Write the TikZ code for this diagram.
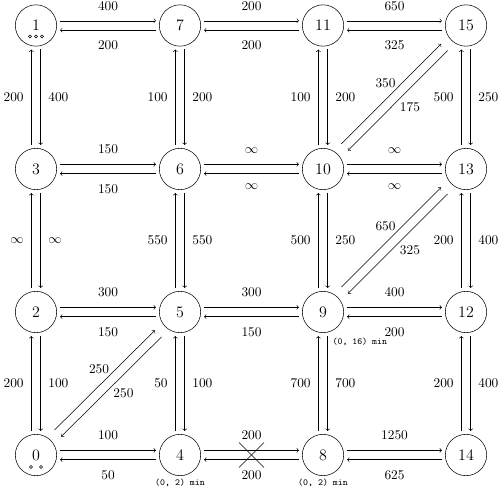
\documentclass[tikz,border=0pt]{standalone}
\usetikzlibrary{calc}
\tikzset{
 vtx/.style={circle,draw,minimum size=31pt,inner sep=0pt,font=\large},
 arr/.style={->},
 lab/.style={auto,inner sep=5.6pt,font=\normalsize},
 hl/.style={inner sep=7.7pt},
 dul/.style={auto=false,anchor=center,xshift=-4.25pt,yshift=8pt},
 ddr/.style={auto=false,anchor=center,xshift=9.1pt,yshift=-4.6pt},
 smallc/.style={draw},
 note/.style={font=\scriptsize\ttfamily,inner sep=1pt},
}
\newcommand\edgeAB[5][]{\draw[arr] ($(#3)!#2!(#4)!3.5pt!90:(#4)$) -- node[lab,#1]{#5} ($(#4)!#2!(#3)!3.5pt!-90:(#3)$);}
\begin{document}
\begin{tikzpicture}[x=0.75pt,y=0.75pt]
\useasboundingbox (0,0) rectangle (504,490);
% vertices
\node[vtx] (n1)  at (36,464.5) {1};
\node[vtx] (n7)  at (180,464.5) {7};
\node[vtx] (n11) at (323,464.5) {11};
\node[vtx] (n15) at (466,464.5) {15};
\node[vtx] (n3)  at (36,321) {3};
\node[vtx] (n6)  at (180,321) {6};
\node[vtx] (n10) at (323,321) {10};
\node[vtx] (n13) at (466,321) {13};
\node[vtx] (n2)  at (36,178) {2};
\node[vtx] (n5)  at (180,178) {5};
\node[vtx] (n9)  at (323,178) {9};
\node[vtx] (n12) at (466,178) {12};
\node[vtx] (n0)  at (36,35) {0};
\node[vtx] (n4)  at (180,35) {4};
\node[vtx] (n8)  at (323,35) {8};
\node[vtx] (n14) at (466,35) {14};
% small circles
\draw[smallc] (n1) ++(-6,-11) circle (1.4);
\draw[smallc] (n1) ++(0,-11) circle (1.4);
\draw[smallc] (n1) ++(6,-11) circle (1.4);
\draw[smallc] (n0) ++(-5,-12) circle (1.4);
\draw[smallc] (n0) ++(5,-12) circle (1.4);
% horizontal edges
\edgeAB[hl]{18pt}{n1}{n7}{400}
\edgeAB[hl]{18pt}{n7}{n1}{200}
\edgeAB[hl]{18pt}{n7}{n11}{200}
\edgeAB[hl]{18pt}{n11}{n7}{200}
\edgeAB[hl]{18pt}{n11}{n15}{650}
\edgeAB[hl]{18pt}{n15}{n11}{325}
\edgeAB[hl]{18pt}{n3}{n6}{150}
\edgeAB[hl]{18pt}{n6}{n3}{150}
\edgeAB[hl]{18pt}{n6}{n10}{$\infty$}
\edgeAB[hl]{18pt}{n10}{n6}{$\infty$}
\edgeAB[hl]{18pt}{n10}{n13}{$\infty$}
\edgeAB[hl]{18pt}{n13}{n10}{$\infty$}
\edgeAB[hl]{18pt}{n2}{n5}{300}
\edgeAB[hl]{18pt}{n5}{n2}{150}
\edgeAB[hl]{18pt}{n5}{n9}{300}
\edgeAB[hl]{18pt}{n9}{n5}{150}
\edgeAB[hl]{18pt}{n9}{n12}{400}
\edgeAB[hl]{18pt}{n12}{n9}{200}
\edgeAB[hl]{18pt}{n0}{n4}{100}
\edgeAB[hl]{18pt}{n4}{n0}{50}
\edgeAB[hl]{18pt}{n4}{n8}{200}
\edgeAB[hl]{18pt}{n8}{n4}{200}
\edgeAB[hl]{18pt}{n8}{n14}{1250}
\edgeAB[hl]{18pt}{n14}{n8}{625}
% vertical edges
\edgeAB{18pt}{n3}{n1}{200}
\edgeAB{18pt}{n1}{n3}{400}
\edgeAB{18pt}{n2}{n3}{$\infty$}
\edgeAB{18pt}{n3}{n2}{$\infty$}
\edgeAB{18pt}{n0}{n2}{200}
\edgeAB{18pt}{n2}{n0}{100}
\edgeAB{18pt}{n6}{n7}{100}
\edgeAB{18pt}{n7}{n6}{200}
\edgeAB{18pt}{n5}{n6}{550}
\edgeAB{18pt}{n6}{n5}{550}
\edgeAB{18pt}{n4}{n5}{50}
\edgeAB{18pt}{n5}{n4}{100}
\edgeAB{18pt}{n10}{n11}{100}
\edgeAB{18pt}{n11}{n10}{200}
\edgeAB{18pt}{n9}{n10}{500}
\edgeAB{18pt}{n10}{n9}{250}
\edgeAB{18pt}{n8}{n9}{700}
\edgeAB{18pt}{n9}{n8}{700}
\edgeAB{18pt}{n13}{n15}{500}
\edgeAB{18pt}{n15}{n13}{250}
\edgeAB{18pt}{n12}{n13}{200}
\edgeAB{18pt}{n13}{n12}{400}
\edgeAB{18pt}{n14}{n12}{200}
\edgeAB{18pt}{n12}{n14}{400}
% diagonal edges
\edgeAB[dul]{23pt}{n10}{n15}{350}
\edgeAB[ddr]{23pt}{n15}{n10}{175}
\edgeAB[dul]{23pt}{n9}{n13}{650}
\edgeAB[ddr]{23pt}{n13}{n9}{325}
\edgeAB[dul]{23pt}{n0}{n5}{250}
\edgeAB[ddr]{23pt}{n5}{n0}{250}
% cross on 4-8
\coordinate (cx) at ($(n4)!0.5!(n8)$);
\draw ([shift={(-9.4pt,9.4pt)}]cx) -- ([shift={(9.4pt,-9.4pt)}]cx);
\draw ([shift={(-9.4pt,-9.4pt)}]cx) -- ([shift={(9.4pt,9.4pt)}]cx);
% notes
\node[note] (t4) at (180,7) {(0, 2) min};
\node[note] (t8) at (323,7) {(0, 2) min};
\node[note,anchor=west] (t9) at (331,148) {(0, 16) min};
\end{tikzpicture}
\end{document}
